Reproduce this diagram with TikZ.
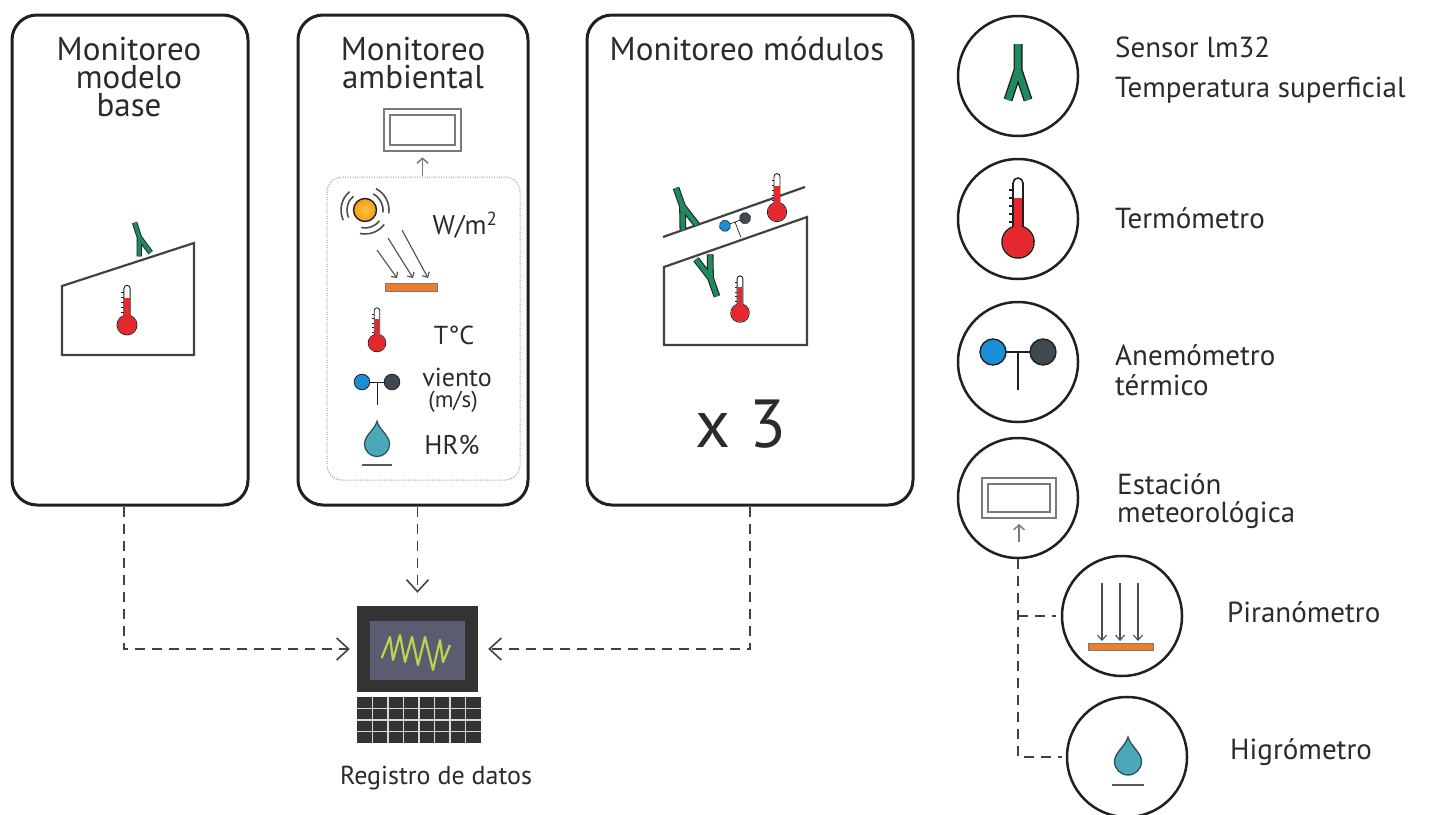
\documentclass[tikz,border=0pt]{standalone}
\usepackage{fontspec}
\setmainfont{PT Sans}
\usetikzlibrary{arrows.meta}

\definecolor{ink}{HTML}{231F20}
\definecolor{txt}{HTML}{2B2B2B}
\definecolor{thermored}{HTML}{E5282D}
\definecolor{sensorgreen}{HTML}{1E8A5E}
\definecolor{cupblue}{HTML}{1A8FD8}
\definecolor{cupdark}{HTML}{3F4950}
\definecolor{dropteal}{HTML}{4AA8B8}
\definecolor{dropedge}{HTML}{2E4E58}
\definecolor{barorange}{HTML}{EF7E2B}
\definecolor{sunyellow}{HTML}{FCC63A}
\definecolor{sunorange}{HTML}{F39A1E}
\definecolor{boxgray}{HTML}{7A7A7A}
\definecolor{screendark}{HTML}{333333}
\definecolor{screenblue}{HTML}{5B5C72}
\definecolor{zigcolor}{HTML}{B8D64C}
\definecolor{keyline}{HTML}{D8D8D8}

\newcommand{\isz}{1}

\tikzset{
  iconsize/.code={\def\isz{#1}\tikzset{scale=#1}},
  thermo/.pic={
    \draw[line width=1.6*\isz, draw=ink, fill=white] (-5,-15.2) -- (-5,-59) arc (180:360:5) -- (5,-15.2) arc (288.2:611.8:16) -- cycle;
    \fill[thermored] (-4.2,-44) rectangle (4.2,-12);
    \fill[thermored] (0,0) circle (15.2);
    \foreach \t in {-52,-44,-36,-28,-20}
      \draw[line width=1.3*\isz, ink] (-5,\t) -- (-9,\t);
  },
  sensor/.pic={
    \draw[line width=9*\isz, ink] (0,-26) -- (0,0) -- (-10,30) (0,0) -- (10,30);
    \draw[line width=6.2*\isz, sensorgreen] (0,-26) -- (0,0) -- (-10,30) (0,0) -- (10,30);
  },
  anemo/.pic={
    \draw[line width=1.6*\isz, ink] (-13,0) -- (13,0) (0,0) -- (0,38);
    \draw[line width=1.4*\isz, ink, fill=cupblue] (-25,0) circle (13);
    \draw[line width=1.4*\isz, ink, fill=cupdark] (25,0) circle (13);
  },
  drop/.pic={
    \draw[line width=1.3*\isz, dropedge, fill=dropteal] (0,-24.5) .. controls (2,-16) and (13.5,-9) .. (13.5,0)
      arc (0:180:13.5) .. controls (-13.5,-9) and (-2,-16) .. (0,-24.5) -- cycle;
    \draw[line width=2*\isz, ink!75] (-16,23) -- (16,23);
  },
  station/.pic={
    \draw[line width=1.8*\isz, boxgray] (-37,-20) rectangle (37,20) (-31,-14) rectangle (31,14);
    \draw[line width=1.4*\isz, boxgray, -{Straight Barb[length=5pt,width=11pt]}] (0,44) -- (0,26);
  },
}

\begin{document}
\begin{tikzpicture}[x=1pt, y=-1pt, text=txt,
  panel/.style={draw=ink, line width=3, rounded corners=25, inner sep=0},
  legcircle/.style={circle, draw=ink, line width=2.5, minimum size=120, inner sep=0},
  module/.style={draw=ink!85, line width=2.2, line join=miter},
  dashline/.style={draw=ink!85, line width=1.6, dash pattern=on 10pt off 7pt},
  bigtip/.style={-{Straight Barb[length=12pt,width=22pt]}},
  ray/.style={draw=ink!80, line width=1.1, -{Straight Barb[length=4pt,width=8pt]}},
  title/.style={inner sep=0, align=center, font=\fontsize{33}{28}\selectfont},
  legtext/.style={inner sep=0, anchor=west, align=left, font=\fontsize{29}{30}\selectfont},
  small/.style={inner sep=0, font=\fontsize{26}{26}\selectfont}]
\useasboundingbox (0,0) rectangle (1431,814);

\node[panel, minimum width=236, minimum height=490] (base) at (130,260) {};
\node[panel, minimum width=230, minimum height=490] (amb) at (413,260) {};
\node[panel, minimum width=326, minimum height=490] (mod) at (750,260) {};
\node[title, anchor=north] (t1) at (129,37) {Monitoreo\\modelo\\base};
\node[title, anchor=north] (t2) at (413,37) {Monitoreo\\ambiental};
\node[title, anchor=north] (t3) at (747,37) {Monitoreo módulos};

% base model
\draw[module] (62,286) -- (194,243) -- (194,355) -- (62,355) -- cycle;
\pic[rotate=18, iconsize=0.6] at (139.4,237.4) {sensor};
\pic[iconsize=0.62] at (127,325) {thermo};

% weather station
\pic[iconsize=1.05] at (422.5,130) {station};
\draw[draw=ink!45, line width=1, dash pattern=on 1pt off 1.4pt, rounded corners=15] (327,177) rectangle (520,480);
\node[circle, draw=ink, line width=1.4, inner color=sunyellow, outer color=sunorange, minimum size=23, inner sep=0] (sun) at (365,210) {};
\foreach \a/\b in {155/230, 297/368, 37/102}
  \foreach \r in {18,24}
    \draw[ink!80, line width=1.6] (sun.center) ++(\a:\r) arc (\a:\b:\r);
\draw[ray] (377,250) -- (397,278);
\draw[ray] (388,238) -- (413,278);
\draw[ray] (402,230) -- (428,278);
\draw[fill=barorange, draw=ink!60, line width=0.6] (385,283) rectangle (437,291);
\node[small, font=\fontsize{27}{27}\selectfont] (wm) at (465,225) {W/m\textsuperscript{2}};
\pic[iconsize=0.55] at (377,343) {thermo};
\node[small] (tc) at (454,335) {T°C};
\pic[iconsize=0.6] at (377,382) {anemo};
\node[small] (vi) at (457,377) {viento};
\node[small, font=\fontsize{23}{23}\selectfont] (ms) at (453,402) {(m/s)};
\pic[iconsize=0.93] at (377,444) {drop};
\node[small, font=\fontsize{27}{27}\selectfont] (hr) at (452,445) {HR\%};

% modules
\draw[module] (663,237) -- (805,187);
\draw[module] (664,267) -- (807,217) -- (807,345) -- (664,345) -- cycle;
\pic[rotate=19.4, iconsize=0.75] at (682.5,206.3) {sensor};
\pic[rotate=199.4, iconsize=0.75] at (710.5,278) {sensor};
\pic[rotate=21, iconsize=0.43] at (735,222) {anemo};
\pic[iconsize=0.6] at (777,212) {thermo};
\pic[iconsize=0.58] at (740,313) {thermo};
\node[inner sep=0, font=\fontsize{68}{68}\selectfont] (x3) at (741,424) {x 3};

% data logger
\node[fill=screendark, minimum width=121, minimum height=86, inner sep=0] (logger) at (417.5,649) {};
\node[fill=screenblue, minimum width=95, minimum height=59, inner sep=0] (screen) at (417.5,650.5) {};
\draw[zigcolor, line width=2.2, line join=round] (381.7,658) -- (390,637) -- (393,660) -- (400,635) -- (405,662) -- (412,637)
  -- (418,665) -- (425,637) -- (433,670) -- (440,640) -- (443,662) -- (450,645);
\node[fill=screendark, minimum width=124, minimum height=46, inner sep=0] (keys) at (419,720) {};
\foreach \i in {1,...,7}
  \draw[keyline, line width=1.4] (357+\i*15.5,697) -- (357+\i*15.5,743);
\foreach \j in {1,2,3}
  \draw[keyline, line width=1.4] (357,697+\j*11.5) -- (481,697+\j*11.5);
\node[inner sep=0, font=\fontsize{26}{26}\selectfont] (reg) at (436,778) {Registro de datos};

\draw[dashline, bigtip, shorten >=7pt] ([xshift=-6pt]base.south) |- (logger.west);
\draw[dashline, bigtip, shorten >=13pt] (logger.north |- amb.south) -- (logger.north);
\draw[dashline, bigtip, shorten >=10pt] (mod.south) |- (logger.east);

% legend
\node[legcircle] (sens) at (1018,76) {};
\node[legcircle] (therm) at (1018,219) {};
\node[legcircle] (anem) at (1018,362) {};
\node[legcircle] (stat) at (1018,498) {};
\node[legcircle] (pyra) at (1122,616) {};
\node[legcircle] (hygro) at (1127,757) {};
\pic at (1018,70) {sensor};
\pic at (1018,242) {thermo};
\pic at (1018,352) {anemo};
\pic at (1019,498) {station};
\foreach \x in {1102,1120,1138}
  \draw[ink!80, line width=1.1, -{Straight Barb[length=5pt,width=9pt]}] (\x,583) -- (\x,641);
\draw[fill=barorange, draw=ink!60, line width=0.6] (1088,643) rectangle (1153,650);
\pic at (1128,761.5) {drop};
\draw[dashline, shorten >=4pt] (stat.south) |- (hygro.west);
\draw[dashline, shorten >=5pt] (stat.south |- pyra.west) -- (pyra.west);

\node[legtext, font=\fontsize{29}{40}\selectfont] (l1) at (1115,70) {Sensor lm32\\Temperatura superficial};
\node[legtext] (l2) at (1115,218) {Termómetro};
\node[legtext] (l3) at (1115,370) {Anemómetro\\térmico};
\node[legtext, font=\fontsize{29}{28}\selectfont] (l4) at (1117,501) {Estación\\meteorológica};
\node[legtext] (l5) at (1227,612) {Piranómetro};
\node[legtext] (l6) at (1230,752) {Higrómetro};
\end{tikzpicture}
\end{document}
